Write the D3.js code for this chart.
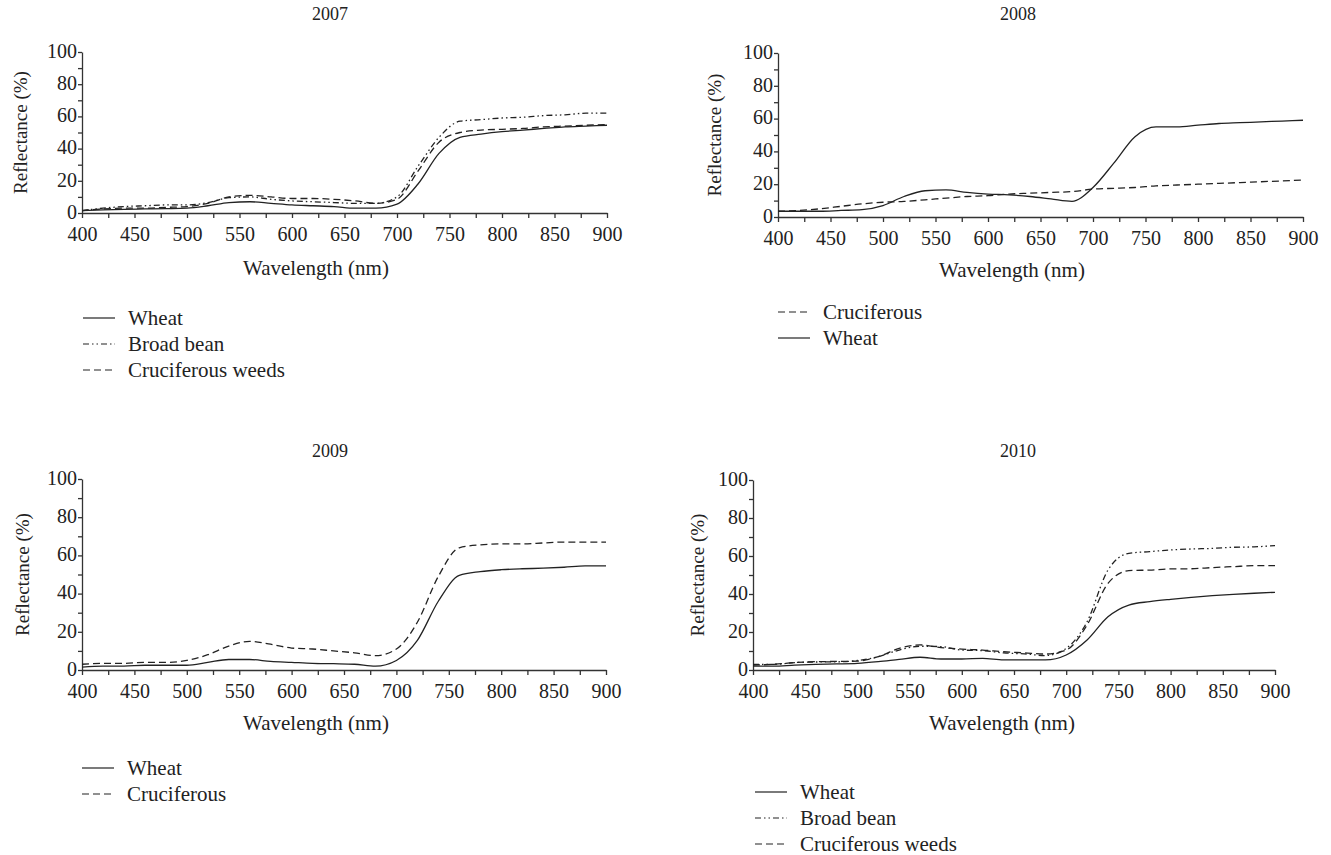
<!DOCTYPE html>
<html>
<head>
<meta charset="utf-8">
<script src="https://cdn.jsdelivr.net/npm/d3@7"></script>
<style>
  body { margin: 0; background: #fff; }
  svg text { font-family: "Liberation Serif", "DejaVu Serif", serif; fill: #222; }
</style>
</head>
<body>
<div id="chart"></div>
<script>
// wavelengths shared by every series (nm)
var wavelengths = [400, 420, 440, 460, 480, 500, 520, 540, 560, 580, 600, 620, 640,
                   660, 680, 700, 720, 740, 760, 780, 800, 820, 840, 860, 880, 900];

// 2007
var wheat2007 = [1.5, 2, 2.3, 2.5, 2.7, 3, 4.5, 6.5, 7, 6, 5, 4.5, 4, 3, 3, 5.5, 18, 37, 47, 49, 50.5, 51.5, 52.5, 53.5, 54, 54.5];
var bean2007 = [1.5, 3, 4, 4.5, 5, 5, 6.5, 9.5, 10, 8.5, 7.5, 7, 6.5, 6, 6, 10, 29, 47, 57, 58, 59, 59.5, 60.5, 61, 62, 62];
var cruc2007 = [1.5, 2.5, 3, 3, 3.5, 4, 6, 10, 11, 10, 9, 9, 8.5, 7.5, 6, 8.5, 26, 44, 50, 51.5, 52, 52.5, 53.5, 54, 54.5, 55];

// 2008
var cruc2008 = [3.5, 4, 5, 6.5, 8, 9, 9.5, 10.5, 11.5, 12.5, 13, 14, 14.5, 15, 15.5, 17, 17.5, 18, 19, 19.5, 20, 20.5, 21, 21.5, 22, 22.5];
var wheat2008 = [3.5, 3.5, 3.5, 4, 4.5, 7, 12.5, 16, 16.5, 15, 14, 13.5, 12.5, 11, 9.5, 18, 33, 49, 55, 55, 56, 57, 57.5, 58, 58.5, 59];

// 2009
var wheat2009 = [1.5, 2, 2, 2.5, 2.5, 2.5, 4, 5.5, 5.5, 4.5, 4, 3.5, 3.3, 3, 2, 5, 15.5, 36, 49.5, 51.5, 52.5, 53, 53.3, 53.8, 54.5, 54.5];
var cruc2009 = [3, 3.5, 3.5, 4, 4, 5, 8, 12.5, 15, 13.5, 11.5, 11, 10, 9, 7.5, 11, 25, 49, 64, 65.5, 66, 66, 66.5, 67, 67, 67];

// 2010
var wheat2010 = [2, 2, 2.6, 3, 3.2, 3.5, 4.4, 5.6, 6.7, 5.8, 5.8, 6.1, 5.3, 5.3, 5.3, 7.9, 15.8, 28, 34.2, 36, 37.2, 38.2, 39.1, 39.8, 40.4, 40.9];
var bean2010 = [3, 3, 3.9, 4.2, 4.3, 5, 7, 10.5, 12.5, 12.3, 10.5, 10.2, 9, 8.5, 7.6, 11.4, 25.4, 52.6, 61.4, 62.3, 63.2, 63.7, 64, 64.6, 64.8, 65.5];
var cruc2010 = [2.6, 3, 3.9, 4.4, 4.5, 4.7, 7, 11.4, 13.2, 11.8, 11, 10.5, 9.6, 9, 8.4, 10.5, 23.7, 45.6, 52.3, 52.6, 53.2, 53.3, 53.9, 54.4, 54.9, 54.9];

var xTicks = d3.range(400, 901, 25);
var yTicks = d3.range(0, 101, 10);

// line styles
var dashes = {
    solid: null,
    dashed: "7,4",
    dashdot: "6,3,1.5,3,1.5,3"
};

var svg = d3.select("#chart")
    .append("svg")
    .attr("width", 1331)
    .attr("height", 855);

var panels = [
    {
        title: "2007", tx: 330, ty: 20,
        left: 82, right: 607, top: 52, bottom: 213,
        ylabX: 20, xlabX: 316, xlabY: 275,
        series: [
            {name: "Wheat", values: wheat2007, style: "solid"},
            {name: "Broad bean", values: bean2007, style: "dashdot"},
            {name: "Cruciferous weeds", values: cruc2007, style: "dashed"}
        ],
        legX: 83, legY: 318
    },
    {
        title: "2008", tx: 1018, ty: 20,
        left: 778, right: 1303, top: 53, bottom: 217,
        ylabX: 714, xlabX: 1012, xlabY: 277,
        series: [
            {name: "Cruciferous", values: cruc2008, style: "dashed"},
            {name: "Wheat", values: wheat2008, style: "solid"}
        ],
        legX: 778, legY: 312
    },
    {
        title: "2009", tx: 330, ty: 457,
        left: 82, right: 606, top: 479, bottom: 670,
        ylabX: 22, xlabX: 316, xlabY: 730,
        series: [
            {name: "Wheat", values: wheat2009, style: "solid"},
            {name: "Cruciferous", values: cruc2009, style: "dashed"}
        ],
        legX: 82, legY: 768
    },
    {
        title: "2010", tx: 1018, ty: 457,
        left: 753, right: 1275, top: 480, bottom: 670,
        ylabX: 697, xlabX: 1002, xlabY: 730,
        series: [
            {name: "Wheat", values: wheat2010, style: "solid"},
            {name: "Broad bean", values: bean2010, style: "dashdot"},
            {name: "Cruciferous weeds", values: cruc2010, style: "dashed"}
        ],
        legX: 755, legY: 792
    }
];

panels.forEach(function (p) {
    var x = d3.scaleLinear().domain([400, 900]).range([p.left, p.right]);
    var y = d3.scaleLinear().domain([0, 100]).range([p.bottom, p.top]);

    var g = svg.append("g");

    // title
    g.append("text")
        .attr("x", p.tx)
        .attr("y", p.ty)
        .attr("text-anchor", "middle")
        .style("font-size", "18px")
        .text(p.title);

    // axes
    var xAxis = g.append("g")
        .attr("transform", "translate(0," + p.bottom + ")")
        .call(d3.axisBottom(x)
            .tickValues(xTicks)
            .tickSize(5)
            .tickSizeOuter(0)
            .tickPadding(9)
            .tickFormat(function (d) { return d % 50 === 0 ? d : ""; }));

    var yAxis = g.append("g")
        .attr("transform", "translate(" + p.left + ",0)")
        .call(d3.axisLeft(y)
            .tickValues(yTicks)
            .tickSize(4)
            .tickSizeOuter(0)
            .tickPadding(1)
            .tickFormat(function (d) { return d % 20 === 0 ? d : ""; }));

    [xAxis, yAxis].forEach(function (a) {
        a.selectAll("path, line").attr("stroke", "#333").attr("stroke-width", 1.3);
        a.selectAll("text")
            .style("font-size", "20px")
            .style("font-family", "'Liberation Serif', serif")
            .attr("fill", "#222");
    });
    // lift the zero label a touch so it clears the first x label
    yAxis.selectAll("text").attr("dy", "0.26em");

    // axis titles
    g.append("text")
        .attr("transform", "translate(" + p.ylabX + "," + ((p.top + p.bottom) / 2) + ") rotate(-90)")
        .attr("text-anchor", "middle")
        .attr("dy", "0.35em")
        .style("font-size", "19px")
        .text("Reflectance (%)");

    g.append("text")
        .attr("x", p.xlabX)
        .attr("y", p.xlabY)
        .attr("text-anchor", "middle")
        .style("font-size", "21px")
        .text("Wavelength (nm)");

    // lines
    var line = d3.line()
        .x(function (d, i) { return x(wavelengths[i]); })
        .y(function (d) { return y(d); })
        .curve(d3.curveMonotoneX);

    p.series.forEach(function (s) {
        g.append("path")
            .datum(s.values)
            .attr("fill", "none")
            .attr("stroke", "#222")
            .attr("stroke-width", 1.3)
            .attr("stroke-dasharray", dashes[s.style])
            .attr("d", line);
    });

    // legend
    var leg = g.append("g")
        .attr("transform", "translate(" + p.legX + "," + p.legY + ")");

    p.series.forEach(function (s, i) {
        var row = leg.append("g").attr("transform", "translate(0," + (i * 26) + ")");
        row.append("line")
            .attr("x1", 0).attr("x2", 32)
            .attr("y1", 0).attr("y2", 0)
            .attr("stroke", "#222")
            .attr("stroke-width", 1.2)
            .attr("stroke-dasharray", dashes[s.style]);
        row.append("text")
            .attr("x", 45)
            .attr("y", 0)
            .attr("dy", "0.35em")
            .style("font-size", "21px")
            .text(s.name);
    });
});
</script>
</body>
</html>
